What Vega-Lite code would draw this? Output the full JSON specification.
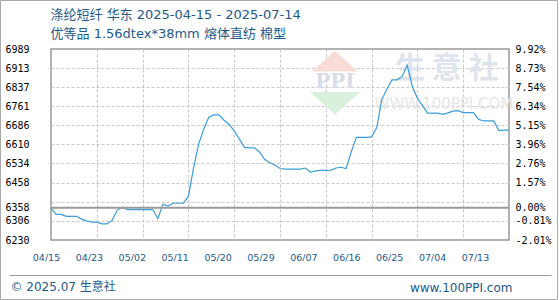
{
  "$schema": "https://vega.github.io/schema/vega-lite/v6.json",
  "width": 458,
  "height": 191,
  "padding": 0,
  "background": "white",
  "config": {"view": {"stroke": "#999999", "strokeWidth": 1.5}},
  "data": {"values": [{}]},
  "datasets": {
    "price": [
      {"date": "2025-04-15", "v": 6358}, {"date": "2025-04-16", "v": 6332}, {"date": "2025-04-17", "v": 6332},
      {"date": "2025-04-18", "v": 6324}, {"date": "2025-04-19", "v": 6324}, {"date": "2025-04-20", "v": 6324},
      {"date": "2025-04-21", "v": 6313}, {"date": "2025-04-22", "v": 6306}, {"date": "2025-04-23", "v": 6301},
      {"date": "2025-04-24", "v": 6301}, {"date": "2025-04-25", "v": 6294}, {"date": "2025-04-26", "v": 6294},
      {"date": "2025-04-27", "v": 6308}, {"date": "2025-04-28", "v": 6348}, {"date": "2025-04-29", "v": 6360},
      {"date": "2025-04-30", "v": 6351}, {"date": "2025-05-01", "v": 6351}, {"date": "2025-05-02", "v": 6351},
      {"date": "2025-05-03", "v": 6351}, {"date": "2025-05-04", "v": 6351}, {"date": "2025-05-05", "v": 6351},
      {"date": "2025-05-06", "v": 6315}, {"date": "2025-05-07", "v": 6372}, {"date": "2025-05-08", "v": 6365},
      {"date": "2025-05-09", "v": 6376}, {"date": "2025-05-10", "v": 6376}, {"date": "2025-05-11", "v": 6376},
      {"date": "2025-05-12", "v": 6403}, {"date": "2025-05-13", "v": 6515}, {"date": "2025-05-14", "v": 6610},
      {"date": "2025-05-15", "v": 6670}, {"date": "2025-05-16", "v": 6718}, {"date": "2025-05-17", "v": 6727},
      {"date": "2025-05-18", "v": 6727}, {"date": "2025-05-19", "v": 6706}, {"date": "2025-05-20", "v": 6689},
      {"date": "2025-05-21", "v": 6664}, {"date": "2025-05-22", "v": 6632}, {"date": "2025-05-23", "v": 6598},
      {"date": "2025-05-24", "v": 6596}, {"date": "2025-05-25", "v": 6596}, {"date": "2025-05-26", "v": 6579},
      {"date": "2025-05-27", "v": 6550}, {"date": "2025-05-28", "v": 6537}, {"date": "2025-05-29", "v": 6528},
      {"date": "2025-05-30", "v": 6514}, {"date": "2025-05-31", "v": 6512}, {"date": "2025-06-01", "v": 6512},
      {"date": "2025-06-02", "v": 6512}, {"date": "2025-06-03", "v": 6512}, {"date": "2025-06-04", "v": 6516},
      {"date": "2025-06-05", "v": 6500}, {"date": "2025-06-06", "v": 6505}, {"date": "2025-06-07", "v": 6507},
      {"date": "2025-06-08", "v": 6507}, {"date": "2025-06-09", "v": 6508}, {"date": "2025-06-10", "v": 6516},
      {"date": "2025-06-11", "v": 6519}, {"date": "2025-06-12", "v": 6514}, {"date": "2025-06-13", "v": 6580},
      {"date": "2025-06-14", "v": 6638}, {"date": "2025-06-15", "v": 6638}, {"date": "2025-06-16", "v": 6638},
      {"date": "2025-06-17", "v": 6640}, {"date": "2025-06-18", "v": 6676}, {"date": "2025-06-19", "v": 6788},
      {"date": "2025-06-20", "v": 6829}, {"date": "2025-06-21", "v": 6866}, {"date": "2025-06-22", "v": 6866},
      {"date": "2025-06-23", "v": 6880}, {"date": "2025-06-24", "v": 6925}, {"date": "2025-06-25", "v": 6840},
      {"date": "2025-06-26", "v": 6793}, {"date": "2025-06-27", "v": 6764}, {"date": "2025-06-28", "v": 6734},
      {"date": "2025-06-29", "v": 6734}, {"date": "2025-06-30", "v": 6734}, {"date": "2025-07-01", "v": 6729},
      {"date": "2025-07-02", "v": 6735}, {"date": "2025-07-03", "v": 6742}, {"date": "2025-07-04", "v": 6744},
      {"date": "2025-07-05", "v": 6736}, {"date": "2025-07-06", "v": 6736}, {"date": "2025-07-07", "v": 6736},
      {"date": "2025-07-08", "v": 6710}, {"date": "2025-07-09", "v": 6703}, {"date": "2025-07-10", "v": 6703},
      {"date": "2025-07-11", "v": 6703}, {"date": "2025-07-12", "v": 6665}, {"date": "2025-07-13", "v": 6667},
      {"date": "2025-07-14", "v": 6667}
    ],
    "labels": [
      {"lab": "04/15"}, {"lab": "04/23"}, {"lab": "05/02"}, {"lab": "05/11"}, {"lab": "05/20"}, {"lab": "05/29"},
      {"lab": "06/07"}, {"lab": "06/16"}, {"lab": "06/25"}, {"lab": "07/04"}, {"lab": "07/13"}
    ]
  },
  "layer": [
    {
      "mark": {"type": "point", "shape": "M0,-0.45L1,0.45L-1,0.45Z", "filled": true, "color": "#f9dcd8", "opacity": 1, "size": 2116, "strokeWidth": 0},
      "encoding": {
        "x": {"datum": {"year": 2025, "month": 6, "date": 9, "hours": 19, "utc": true}, "type": "temporal", "scale": {"type": "utc", "domain": [{"year": 2025, "month": 4, "date": 15, "utc": true}, {"year": 2025, "month": 7, "date": 14, "utc": true}]}, "axis": null},
        "y": {"datum": 6941, "type": "quantitative", "scale": {"domain": [6230, 6989]}, "axis": null}
      }
    },
    {
      "mark": {"type": "point", "shape": "M-1,-0.45L1,-0.45L0,0.45Z", "filled": true, "color": "#d9f0dc", "opacity": 1, "size": 2500, "strokeWidth": 0},
      "encoding": {
        "x": {"datum": {"year": 2025, "month": 6, "date": 9, "hours": 19, "utc": true}, "type": "temporal", "scale": {"type": "utc", "domain": [{"year": 2025, "month": 4, "date": 15, "utc": true}, {"year": 2025, "month": 7, "date": 14, "utc": true}]}, "axis": null},
        "y": {"datum": 6773, "type": "quantitative", "scale": {"domain": [6230, 6989]}, "axis": null}
      }
    },
    {
      "mark": {"type": "text", "text": "PPI", "font": "DejaVu Serif", "fontSize": 20, "fontWeight": "bold", "color": "#d6dce8", "align": "center", "baseline": "middle"},
      "encoding": {
        "x": {"datum": {"year": 2025, "month": 6, "date": 9, "hours": 19, "utc": true}, "type": "temporal", "scale": {"type": "utc", "domain": [{"year": 2025, "month": 4, "date": 15, "utc": true}, {"year": 2025, "month": 7, "date": 14, "utc": true}]}, "axis": null},
        "y": {"datum": 6857, "type": "quantitative", "scale": {"domain": [6230, 6989]}, "axis": null}
      }
    },
    {
      "mark": {"type": "text", "text": "生   意   社", "font": "Noto Sans CJK SC", "fontSize": 30, "fontWeight": "bold", "color": "#dfe3ec", "align": "center", "baseline": "middle"},
      "encoding": {
        "x": {"datum": {"year": 2025, "month": 7, "date": 1, "hours": 19, "utc": true}, "type": "temporal", "scale": {"type": "utc", "domain": [{"year": 2025, "month": 4, "date": 15, "utc": true}, {"year": 2025, "month": 7, "date": 14, "utc": true}]}, "axis": null},
        "y": {"datum": 6909, "type": "quantitative", "scale": {"domain": [6230, 6989]}, "axis": null}
      }
    },
    {
      "mark": {"type": "text", "text": "WWW.100PPI.COM", "font": "DejaVu Sans", "fontSize": 15, "color": "#e6e6e6", "align": "center", "baseline": "middle"},
      "encoding": {
        "x": {"datum": {"year": 2025, "month": 7, "date": 1, "hours": 5, "utc": true}, "type": "temporal", "scale": {"type": "utc", "domain": [{"year": 2025, "month": 4, "date": 15, "utc": true}, {"year": 2025, "month": 7, "date": 14, "utc": true}]}, "axis": null},
        "y": {"datum": 6769, "type": "quantitative", "scale": {"domain": [6230, 6989]}, "axis": null}
      }
    },
    {
      "data": {"name": "price"},
      "mark": {"type": "line", "color": "#3b9ddd", "strokeWidth": 1.2},
      "encoding": {
        "x": {"field": "date", "type": "temporal", "scale": {"type": "utc", "domain": [{"year": 2025, "month": 4, "date": 15, "utc": true}, {"year": 2025, "month": 7, "date": 14, "utc": true}]},
          "axis": {"orient": "bottom", "values": [
            {"year": 2025, "month": 4, "date": 24, "utc": true}, {"year": 2025, "month": 5, "date": 3, "utc": true},
            {"year": 2025, "month": 5, "date": 12, "utc": true}, {"year": 2025, "month": 5, "date": 21, "utc": true},
            {"year": 2025, "month": 5, "date": 30, "utc": true}, {"year": 2025, "month": 6, "date": 8, "utc": true},
            {"year": 2025, "month": 6, "date": 17, "utc": true}, {"year": 2025, "month": 6, "date": 26, "utc": true},
            {"year": 2025, "month": 7, "date": 5, "utc": true}],
            "grid": true, "gridColor": "#c8c8c8", "gridDash": [3, 2], "gridWidth": 1, "labels": false, "ticks": false, "domain": false, "title": null}},
        "y": {"field": "v", "type": "quantitative", "scale": {"domain": [6230, 6989]},
          "axis": {"orient": "left", "values": [6306, 6382, 6458, 6534, 6610, 6686, 6761, 6837, 6913],
            "grid": true, "gridColor": "#c8c8c8", "gridDash": [3, 2], "gridWidth": 1, "labels": false, "ticks": false, "domain": false, "title": null}}
      }
    },
    {
      "mark": {"type": "rule", "color": "#9a9a9a", "strokeWidth": 2},
      "encoding": {
        "y": {"datum": 6358, "type": "quantitative", "scale": {"domain": [6230, 6989]},
          "axis": {"orient": "left", "values": [6230, 6306, 6358, 6458, 6534, 6610, 6686, 6761, 6837, 6913, 6989], "format": "d",
            "grid": false, "domain": false, "ticks": false, "tickSize": 0, "labelAlign": "left", "labelPadding": 46,
            "labelFont": "DejaVu Sans Mono", "labelFontSize": 10, "labelOverlap": false, "title": null,
            "encode": {"labels": {"update": {"fill": {"signal": "datum.value > 6358 ? '#ee3333' : datum.value < 6358 ? '#33aa44' : '#000000'"}}}}}}
      }
    },
    {
      "data": {"name": "labels"},
      "mark": {"type": "point", "opacity": 0},
      "encoding": {
        "x": {"field": "lab", "type": "ordinal", "sort": null, "scale": {"type": "point", "range": [-5, 424], "padding": 0},
          "axis": {"orient": "bottom", "labelFont": "DejaVu Sans", "labelFontSize": 9.5, "labelColor": "#1e5a8a", "labelPadding": 12, "labelAngle": 0,
            "ticks": false, "tickSize": 0, "domain": false, "grid": false, "title": null}},
        "y": {"datum": 6358, "type": "quantitative", "scale": {"domain": [6230, 6989]},
          "axis": {"orient": "right", "values": [6230, 6306, 6358, 6458, 6534, 6610, 6686, 6761, 6837, 6913, 6989],
            "labelExpr": "['-2.01%','-0.81%','0.00%','1.57%','2.76%','3.96%','5.15%','6.34%','7.54%','8.73%','9.92%'][indexof([6230,6306,6358,6458,6534,6610,6686,6761,6837,6913,6989], datum.value)]",
            "labelPadding": 6, "ticks": false, "tickSize": 0, "domain": false, "grid": false, "title": null,
            "labelFont": "DejaVu Sans Mono", "labelFontSize": 10, "labelOverlap": false,
            "encode": {"labels": {"update": {"fill": {"signal": "datum.value > 6358 ? '#ee3333' : datum.value < 6358 ? '#33aa44' : '#000000'"}}}}}}
      }
    },
    {
      "mark": {"type": "point", "opacity": 0},
      "encoding": {
        "x": {"datum": 0.5, "type": "quantitative", "scale": {"domain": [0, 1], "range": [-42, 500]},
          "axis": {"orient": "bottom", "offset": 35, "domain": true, "domainColor": "#999999", "domainWidth": 1, "labels": false, "ticks": false, "grid": false,
            "title": "www.100PPI.com", "titleFont": "DejaVu Sans", "titleFontSize": 12, "titleFontWeight": "normal", "titleColor": "#1e5a8a",
            "titleAlign": "right", "titleBaseline": "middle", "titleX": 461, "titleY": 12}},
        "y": {"datum": 0.5, "type": "quantitative", "scale": {"domain": [0, 1], "range": [250, -49]},
          "axis": {"orient": "left", "offset": 51, "domain": true, "domainColor": "#aaaaaa", "domainWidth": 1, "labels": false, "ticks": false, "grid": false, "title": null}}
      }
    },
    {
      "mark": {"type": "point", "opacity": 0},
      "encoding": {
        "x": {"datum": 0.5, "type": "quantitative", "scale": {"domain": [0, 1], "range": [-51, 506]},
          "axis": {"orient": "top", "offset": 49, "domain": true, "domainColor": "#aaaaaa", "domainWidth": 1, "labels": false, "ticks": false, "grid": false,
            "title": ["涤纶短纤 华东 2025-04-15 - 2025-07-14", "优等品 1.56dtex*38mm 熔体直纺 棉型"],
            "titleFont": "DejaVu Sans, Noto Sans CJK SC", "titleFontSize": 13, "titleFontWeight": "normal", "titleColor": "#1e5a8a",
            "titleAlign": "left", "titleBaseline": "top", "titleX": -1, "titleY": 8, "titleLineHeight": 19, "titleAngle": 0}},
        "y": {"datum": 0.5, "type": "quantitative", "scale": {"domain": [0, 1], "range": [250, -49]},
          "axis": {"orient": "right", "offset": 48, "domain": true, "domainColor": "#aaaaaa", "domainWidth": 1, "labels": false, "ticks": false, "grid": false, "title": null}}
      }
    },
    {
      "mark": {"type": "point", "opacity": 0},
      "encoding": {
        "x": {"datum": 0.5, "type": "quantitative", "scale": {"domain": [0, 1], "range": [-51, 506]},
          "axis": {"orient": "bottom", "offset": 59, "domain": true, "domainColor": "#aaaaaa", "domainWidth": 1, "labels": false, "ticks": false, "grid": false,
            "title": "© 2025.07 生意社", "titleFont": "DejaVu Sans, Noto Sans CJK SC", "titleFontSize": 12, "titleFontWeight": "normal", "titleColor": "#1e5a8a",
            "titleAlign": "left", "titleBaseline": "middle", "titleX": -41, "titleY": -13}}
      }
    }
  ],
  "resolve": {"scale": {"x": "independent", "y": "independent"}, "axis": {"x": "independent", "y": "independent"}}
}
